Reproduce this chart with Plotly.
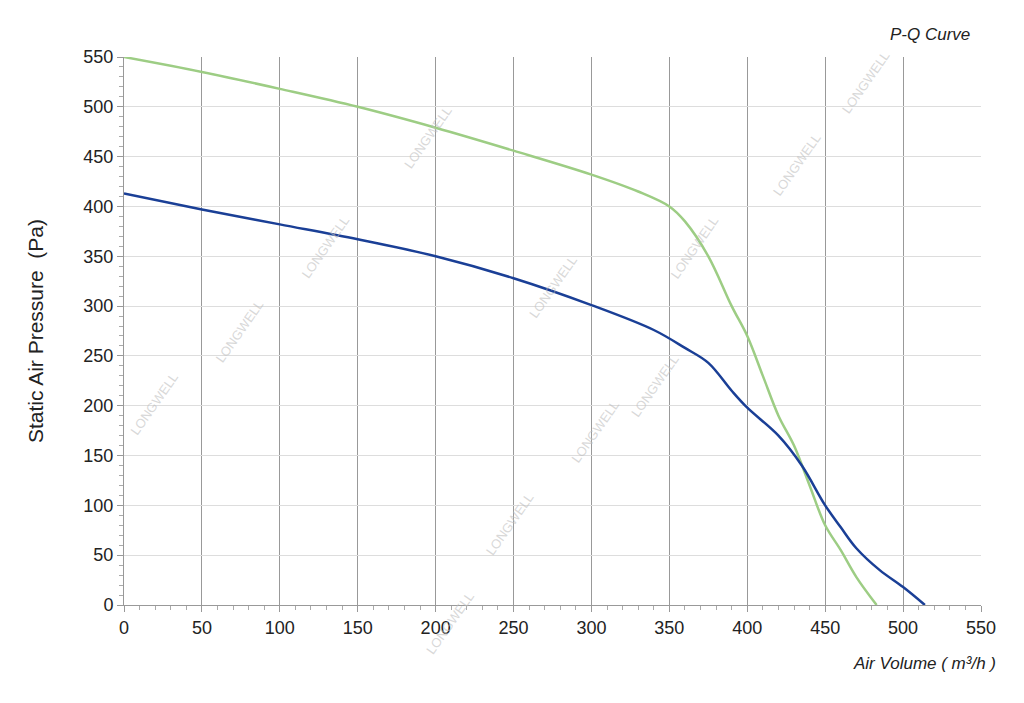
import plotly.graph_objects as go

green_x = [0, 50, 100, 150, 200, 250, 300, 330, 350, 360, 375, 390, 400, 410, 420, 430, 440, 450, 460, 470, 483]
green_y = [550, 535, 518, 500, 479, 456, 432, 415, 400, 385, 350, 300, 270, 230, 190, 160, 120, 80, 55, 28, 0]
blue_x = [0, 50, 100, 150, 200, 250, 300, 340, 360, 375, 390, 400, 420, 435, 450, 460, 470, 485, 500, 514]
blue_y = [413, 397, 382, 367, 350, 328, 301, 276, 258, 243, 215, 198, 170, 140, 100, 78, 57, 35, 18, 0]

fig = go.Figure()
fig.add_trace(go.Scatter(x=green_x, y=green_y, mode="lines", line=dict(color="#9dcd84", width=2.5, shape="spline"), showlegend=False))
fig.add_trace(go.Scatter(x=blue_x, y=blue_y, mode="lines", line=dict(color="#1a3f96", width=2.5, shape="spline"), showlegend=False))

wm = [(0.0, 0.3), (0.1, 0.5), (0.2, 0.72), (0.32, 0.92), (0.5, 0.58), (0.62, 0.4), (0.7, 0.72), (0.82, 0.87), (0.9, 1.02), (0.55, 0.25), (0.45, 0.08), (0.38, -0.1)]
for (ax, ay) in wm:
    fig.add_annotation(x=ax, y=ay, xref="paper", yref="paper", text="LONGWELL", showarrow=False,
                       textangle=-55, font=dict(size=13, color="rgba(190,190,190,0.6)", family="Liberation Sans"))

fig.update_layout(
    width=1024, height=703, paper_bgcolor="white", plot_bgcolor="white",
    margin=dict(l=116, r=51, t=49, b=106),
    font=dict(family="Liberation Sans, Arial", color="#222", size=18),
    xaxis=dict(range=[0, 550], tickvals=list(range(0, 551, 50)), showgrid=True, gridcolor="#999999", gridwidth=1.2,
               showline=True, linecolor="#999", ticks="outside", ticklen=6, tickcolor="#999",
               minor=dict(dtick=10, ticks="outside", ticklen=4, tickcolor="#aaa", showgrid=False),
               zeroline=False, tickfont=dict(size=18)),
    yaxis=dict(range=[0, 550], tickvals=list(range(0, 551, 50)), showgrid=True, gridcolor="#dddddd", gridwidth=1,
               showline=True, linecolor="#999", ticks="outside", ticklen=6, tickcolor="#999",
               minor=dict(dtick=10, ticks="outside", ticklen=4, tickcolor="#aaa", showgrid=False),
               zeroline=False, tickfont=dict(size=18),
               title=dict(text="Static Air Pressure  (Pa)", font=dict(size=21), standoff=34)),
)
fig.add_annotation(x=0.99, y=1.02, xref="paper", yref="paper", xanchor="right", yanchor="bottom", showarrow=False,
                   text="<i>P-Q Curve</i>", font=dict(size=17))
fig.add_annotation(x=1.02, y=-0.085, xref="paper", yref="paper", xanchor="right", yanchor="top", showarrow=False,
                   text="<i>Air Volume ( m³/h )</i>", font=dict(size=17))
fig.write_html("out.html")
